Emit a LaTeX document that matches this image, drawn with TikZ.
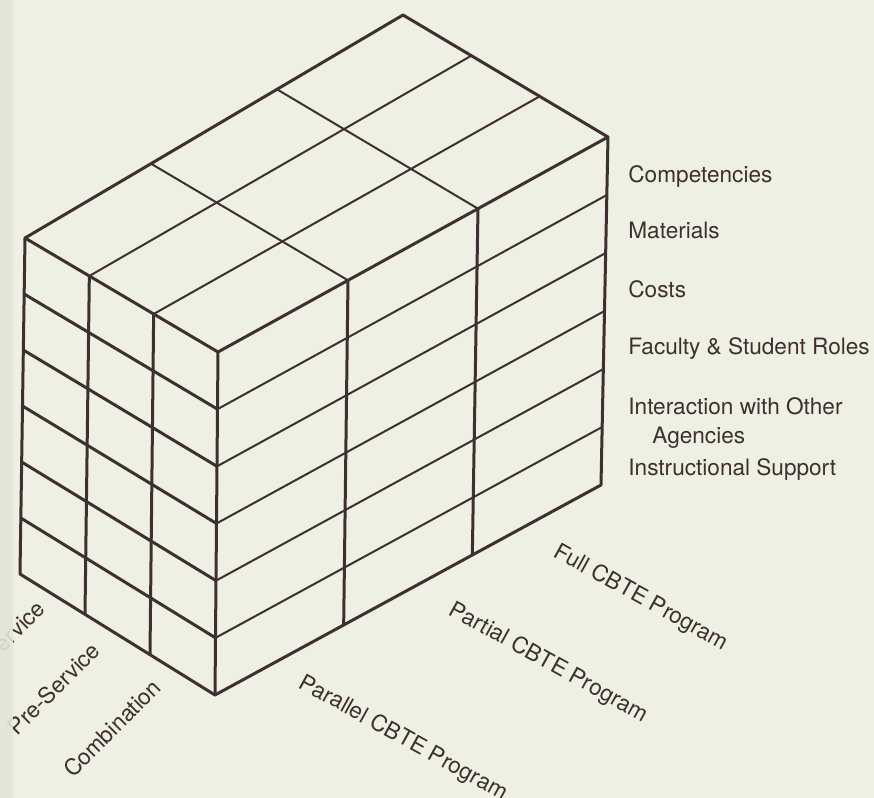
\documentclass[tikz,border=0pt]{standalone}
\usepackage{fontspec}
\setmainfont{TeX Gyre Heros}
\usetikzlibrary{calc}
\definecolor{paper}{RGB}{237,240,226}
\definecolor{gutter}{RGB}{226,229,215}
\definecolor{ink}{RGB}{62,48,48}
\tikzset{rib/.append style={line width=1.5pt, draw=ink, line join=round}}
\tikzset{thinrib/.append style={line width=1pt, draw=ink}}
\tikzset{lbl/.append style={text=ink, inner sep=0pt, font=\fontsize{11.3}{14.5}\selectfont}}

\begin{document}
\begin{tikzpicture}[x=0.5pt,y=-0.5pt]
                \clip (0,0) rectangle (874,798);
                \fill[paper] (0,0) rectangle (874,798);
                % corners of the block
                \coordinate (lt) at (25,238);
                \coordinate (lb) at (20,574);
                \coordinate (ft) at (218,352);
                \coordinate (fb) at (215,695);
                \coordinate (rt) at (608,137);
                \coordinate (rb) at (601,485);
                \coordinate (bt) at (403,15);
                \foreach \k in {1,2} {
                  \draw[thinrib] ($(lt)!\k/3!(ft)$) -- ($(bt)!\k/3!(rt)$);
                  \draw[thinrib] ($(lt)!\k/3!(bt)$) -- ($(ft)!\k/3!(rt)$);
                  \draw[rib] ($(lt)!\k/3!(ft)$) -- ($(lb)!\k/3!(fb)$);
                  \draw[rib] ($(ft)!\k/3!(rt)$) -- ($(fb)!\k/3!(rb)$);
                }
                \foreach \j in {1,...,5} {
                  \draw[rib] ($(lt)!\j/6!(lb)$) -- ($(ft)!\j/6!(fb)$);
                  \draw[thinrib] ($(ft)!\j/6!(fb)$) -- ($(rt)!\j/6!(rb)$);
                }
                \draw[rib] (lt) -- (bt) -- (rt) -- (rb) -- (fb) -- (lb) -- cycle;
                \draw[rib] (lt) -- (ft) -- (rt);
                \draw[rib] (ft) -- (fb);
                % rows
                \node[lbl, anchor=base west] (comp) at (628,182) {Competencies};
                \node[lbl, anchor=base west] (mat) at (628,238) {Materials};
                \node[lbl, anchor=base west] (cost) at (628,297) {Costs};
                \node[lbl, anchor=base west] (role) at (628,354) {Faculty \& Student Roles};
                \node[lbl, anchor=north west, align=left] (inter) at (628,397) {Interaction with Other\\\hspace*{12pt}Agencies};
                \node[lbl, anchor=base west] (supp) at (628,475) {Instructional Support};
                % programs
                \node[lbl, rotate=-29, anchor=north west] (full) at (561,541) {Full CBTE Program};
                \node[lbl, rotate=-29, anchor=north west] (part) at (456,599) {Partial CBTE Program};
                \node[lbl, rotate=-29, anchor=north west] (para) at (306,672) {Parallel CBTE Program};
                % service
                \node[lbl, rotate=45, anchor=base east] (comb) at (163,689) {Combination};
                \node[lbl, rotate=45, anchor=base east] (pre) at (102,652) {Pre-Service};
                \node[lbl, rotate=45, anchor=base east] (insv) at (47,610) {In-Service};
                \fill[gutter, opacity=0.9] (0,0) rectangle (13,798);
            \end{tikzpicture}
\end{document}
